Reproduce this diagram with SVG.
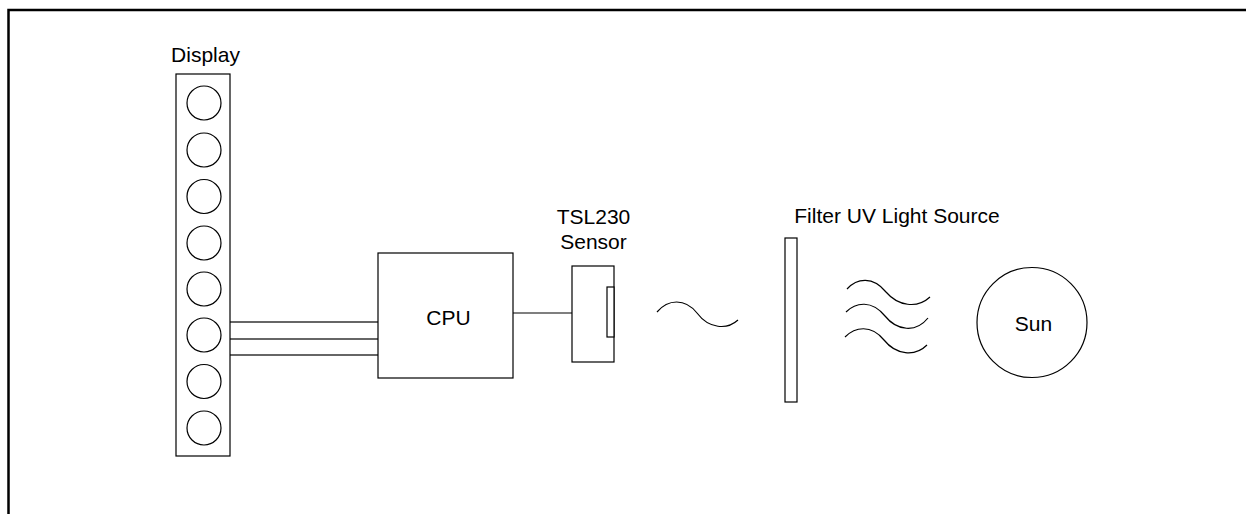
<svg xmlns="http://www.w3.org/2000/svg" width="1246" height="514" viewBox="0 0 1246 514">
<style>
.s{fill:none;stroke:#000;stroke-width:1.2}
.b{fill:#fff;stroke:#000;stroke-width:1.2}
.t{font-family:"Liberation Sans",Arial,sans-serif;font-size:21px;fill:#000;text-anchor:middle}
.w{fill:none;stroke:#333;stroke-width:1.4}
</style>
<rect x="0" y="0" width="1246" height="514" fill="#fff"/>
<rect x="8.5" y="10" width="1300" height="600" fill="none" stroke="#000" stroke-width="2.5"/>
<g id="connectors">
<line class="w" x1="230" y1="322" x2="378" y2="322"/>
<line class="w" x1="230" y1="339" x2="378" y2="339"/>
<line class="w" x1="230" y1="355" x2="378" y2="355"/>
<line class="s" x1="513" y1="313" x2="572" y2="313"/>
</g>
<g id="display">
<text class="t" x="205.5" y="62">Display</text>
<rect class="b" x="176" y="74" width="54" height="382"/>
<circle class="s" cx="204" cy="103" r="17"/>
<circle class="s" cx="204" cy="150" r="17"/>
<circle class="s" cx="204" cy="196.5" r="17"/>
<circle class="s" cx="204" cy="243" r="17"/>
<circle class="s" cx="204" cy="289" r="17"/>
<circle class="s" cx="204" cy="335" r="17"/>
<circle class="s" cx="204" cy="381.5" r="17"/>
<circle class="s" cx="204" cy="428" r="17"/>
</g>
<g id="cpu">
<rect class="b" x="378" y="253" width="135" height="125"/>
<text class="t" x="448.5" y="325">CPU</text>
</g>
<g id="sensor">
<text class="t" x="593.5" y="224">TSL230</text>
<text class="t" x="593.5" y="249">Sensor</text>
<rect class="b" x="572" y="266" width="42" height="96"/>
<rect class="b" x="607" y="287" width="7" height="50"/>
</g>
<g id="light">
<path class="s" d="M657,312 C668,299 685,298 697,313 C709,329 727,330 738,320"/>
</g>
<g id="filter">
<text class="t" x="897" y="223">Filter UV Light Source</text>
<rect class="b" x="785" y="238" width="12" height="164"/>
</g>
<g id="uv-waves">
<path class="s" d="M847,289 C857,278 873,276 886,292 C898,306 917,309 930,297"/>
<path class="s" d="M846,312 C856,302 872,300 885,316 C897,331 916,333 928,318"/>
<path class="s" d="M845,337 C855,327 871,324 884,340 C896,355 915,357 927,345"/>
</g>
<g id="sun">
<circle class="b" cx="1032" cy="322.5" r="55"/>
<text class="t" x="1033.5" y="331">Sun</text>
</g>
</svg>
